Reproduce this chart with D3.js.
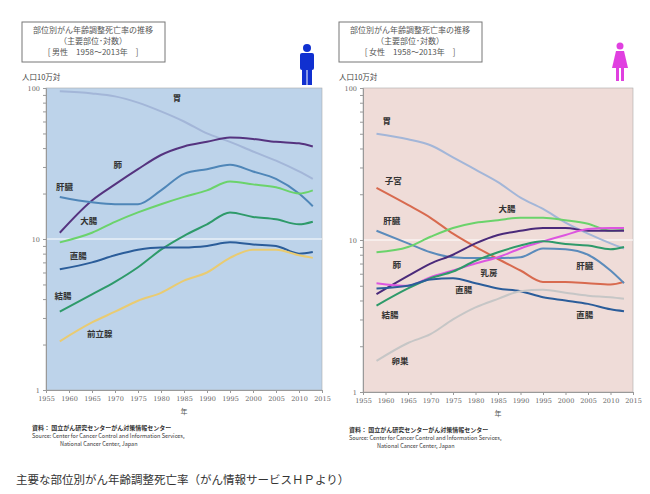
<!DOCTYPE html><html><head><meta charset="utf-8"><script src="https://cdn.jsdelivr.net/npm/d3@7"></script>
<style>body{margin:0;background:#fff;font-family:"Noto Sans CJK JP","Noto Sans",sans-serif}</style></head><body><svg id="c" width="650" height="494"></svg>
<script>
const years=[1958,1965,1970,1975,1980,1985,1990,1995,2000,2005,2010,2013];
const xTicks=[1955,1960,1965,1970,1975,1980,1985,1990,1995,2000,2005,2010,2015];
const yTicks=[1,10,100];
const maleNames=["胃","肺","肝臓","大腸","結腸","直腸","前立腺"];
const maleColors=["#a3b6d8","#55337f","#4f86b8","#6bd36b","#2e9a6a","#2b5d9a","#e9cb72"];
const maleValues=[
[95,92,88,80,70,60,50,44,38,33,28,25],
[11,18,23,29,36,41,44,47,46,44,43,41],
[19,17.5,17,17,21,27,29,31,28,25,20,16.5],
[9.5,11,13,15,17,19,21,24,23,22,20,21],
[3.3,4.3,5.2,6.5,8.5,10.5,12.5,15,14,13.5,12.5,13],
[6.3,7,7.8,8.5,8.8,8.8,9,9.5,9.2,9,8,8.2],
[2.1,2.8,3.3,3.9,4.4,5.3,6.0,7.5,8.5,8.5,7.8,7.5]];
const maleLabels=[[1983.5,86],[1970.6,31],[1959,22],[1964.3,13.2],[1958.7,4.2],[1962,7.7],[1966.7,2.35]];
const femNames=["胃","子宮","肝臓","大腸","肺","乳房","結腸","直腸","卵巣"];
const femColors=["#a3b6d8","#d86a4f","#5b8bbb","#6bd36b","#4a2a7a","#dd55e0","#2e9a6a","#2b5d9a","#c6c6c6"];
const femValues=[
[50,46,42,35,29,24,19,16,13,11,9.5,8.8],
[22,17,14,11,9,7.5,6.3,5.3,5.3,5.2,5.1,5.3],
[11.5,9.5,8.3,7.7,7.6,7.6,7.7,8.8,8.7,8,6.3,5.2],
[8.3,9,10.5,12,13,13.5,14,14,13.5,12.8,11.5,11.7],
[4.4,5.8,7,8,9.5,10.8,11.5,12,12,11.5,11.5,11.5],
[5.2,5.0,5.7,6.3,7.0,7.7,8.8,9.8,10.8,11.8,12,12],
[3.7,4.8,5.6,6.2,7.3,8.3,9.2,9.8,9.4,9.2,8.7,9],
[4.8,5.0,5.5,5.6,5.2,4.8,4.6,4.2,4.0,3.8,3.5,3.4],
[1.6,2.1,2.4,3.0,3.6,4.1,4.6,4.7,4.5,4.3,4.2,4.1]];
const femLabels=[[1960.3,61],[1961.7,24.4],[1961.4,13.3],[1987,16],[1962.5,6.8],[1983,6.1],[1961,3.2],[1977.4,4.7],[1963.2,1.6]];
const femExtra=[["肝臓",2004.3,6.7],["直腸",2004.3,3.2]];

const svg=d3.select("#c");
function panel(o){
  const g=svg.append("g");
  const x=d3.scaleLinear().domain([1955,2015]).range([o.l,o.r]);
  const y=d3.scaleLog().domain([1,100]).range([o.b,88]);
  g.append("rect").attr("x",o.l-24).attr("y",22).attr("width",143).attr("height",40).attr("fill","#fff").attr("stroke","#777");
  const tt=["部位別がん年齢調整死亡率の推移","（主要部位･対数）",o.sub];
  tt.forEach((t,i)=>g.append("text").attr("x",o.l+47).attr("y",33+i*11).attr("text-anchor","middle").attr("font-size",8).attr("fill","#555").text(t));
  g.append("text").attr("x",o.l-24).attr("y",80).attr("font-size",7.5).attr("fill","#444").text("人口10万対");
  g.append("rect").attr("x",o.l).attr("y",88).attr("width",o.r-o.l).attr("height",o.b-88).attr("fill",o.bg).attr("stroke","#aaa").attr("stroke-width",0.6);
  g.append("line").attr("x1",o.l).attr("x2",o.r).attr("y1",y(10)).attr("y2",y(10)).attr("stroke","#fff").attr("stroke-width",1);
  g.append("g").attr("transform",`translate(0,${o.b})`).call(d3.axisBottom(x).tickValues(xTicks).tickFormat(d3.format("d")).tickSize(3))
   .call(a=>{a.select(".domain").attr("stroke","#999");a.selectAll("line").attr("stroke","#999");a.selectAll("text").attr("font-size",6.5).attr("fill","#666").attr("font-family","DejaVu Serif")});
  const minor=[];[1,10].forEach(b=>{for(let k=2;k<10;k++)minor.push(b*k)});
  g.append("g").attr("transform",`translate(${o.l},0)`).call(d3.axisLeft(y).tickValues(yTicks.concat(minor)).tickFormat(d=>yTicks.includes(d)?d:"").tickSize(3))
   .call(a=>{a.select(".domain").attr("stroke","#999");a.selectAll("line").attr("stroke","#999");a.selectAll("text").attr("font-size",6.5).attr("fill","#666").attr("font-family","DejaVu Serif")});
  const line=d3.line().x((d,i)=>x(years[i])).y(d=>y(d)).curve(d3.curveMonotoneX);
  o.vals.forEach((v,i)=>g.append("path").attr("d",line(v)).attr("fill","none").attr("stroke",o.cols[i]).attr("stroke-width",2));
  o.labels.forEach((p,i)=>g.append("text").attr("x",x(p[0])).attr("y",y(p[1])+3).attr("text-anchor","middle").attr("font-size",8.5).attr("font-weight","bold").attr("fill","#333").text(o.names[i]));
  (o.extra||[]).forEach(p=>g.append("text").attr("x",x(p[1])).attr("y",y(p[2])+3).attr("text-anchor","middle").attr("font-size",8.5).attr("font-weight","bold").attr("fill","#333").text(p[0]));
  g.append("text").attr("x",(o.l+o.r)/2).attr("y",o.b+24).attr("text-anchor","middle").attr("font-size",7).attr("fill","#555").text("年");
  const sx=o.l-14;
  g.append("text").attr("x",sx).attr("y",o.b+40).attr("font-size",6).attr("font-weight","bold").attr("fill","#333").text("資料： 国立がん研究センターがん対策情報センター");
  g.append("text").attr("x",sx).attr("y",o.b+48).attr("font-size",5.5).attr("fill","#333").text("Source: Center for Cancer Control and Information Services,");
  g.append("text").attr("x",sx+28).attr("y",o.b+56).attr("font-size",5.5).attr("fill","#333").text("National Cancer Center, Japan");
  return g;
}
panel({l:46,r:322,b:390,bg:"#bdd3ea",sub:"[ 男性　1958～2013年　]",vals:maleValues,cols:maleColors,names:maleNames,labels:maleLabels});
panel({l:363,r:633,b:392,bg:"#efdcd8",sub:"[ 女性　1958～2013年　]",vals:femValues,cols:femColors,names:femNames,labels:femLabels,extra:femExtra});
const m=svg.append("g").attr("fill","#1030d0");
m.append("circle").attr("cx",307).attr("cy",48).attr("r",4);
m.append("rect").attr("x",300).attr("y",53).attr("width",14).attr("height",17).attr("rx",2);
m.append("rect").attr("x",302).attr("y",69).attr("width",4.5).attr("height",16);
m.append("rect").attr("x",307.5).attr("y",69).attr("width",4.5).attr("height",16);
const f=svg.append("g").attr("fill","#e040e0");
f.append("circle").attr("cx",620).attr("cy",46).attr("r",3.5);
f.append("path").attr("d","M616,51 L624,51 L628,68 L612,68 Z");
f.append("rect").attr("x",616).attr("y",67).attr("width",3).attr("height",14);
f.append("rect").attr("x",621).attr("y",67).attr("width",3).attr("height",14);
svg.append("text").attr("x",16).attr("y",484).attr("font-size",11.5).attr("fill","#333").text("主要な部位別がん年齢調整死亡率（がん情報サービスＨＰより）");
</script></body></html>
